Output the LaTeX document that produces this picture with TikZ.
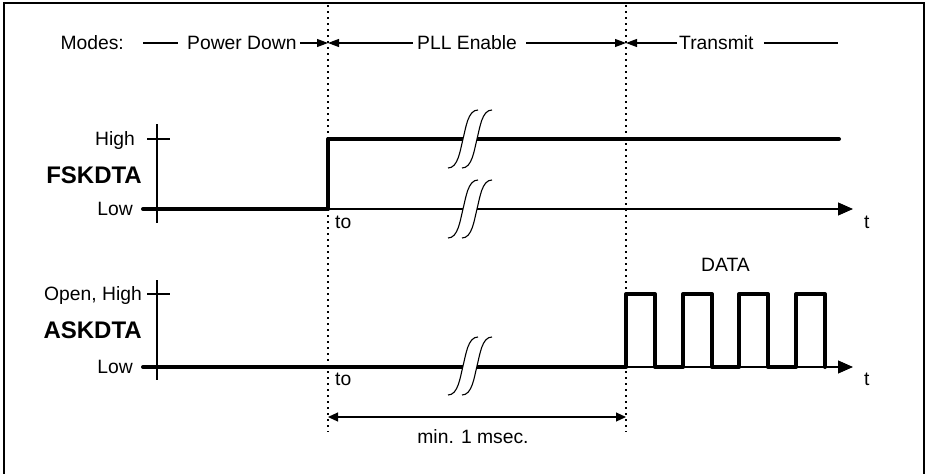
\documentclass[tikz,border=0pt]{standalone}
\usepackage{fontspec}
\setmainfont{Liberation Sans}
\usetikzlibrary{arrows.meta}
\begin{document}
\begin{tikzpicture}[x=1pt,y=-1pt,
  lbl/.style={font=\fontsize{19.3}{22}\selectfont, inner sep=0pt, text height=13.8pt, text depth=0pt},
  boldlbl/.style={font=\fontsize{24}{28}\selectfont\bfseries, inner sep=0pt, text height=17.2pt, text depth=0pt},
  thinln/.style={line width=1.1pt},
  sig/.style={line width=4pt, line cap=round, line join=round},
  guide/.style={line width=1.4pt, dash pattern=on 1.6pt off 4.4pt},
  marr/.style={line width=1.1pt, -{Triangle[length=11pt,width=8pt]}},
  axarr/.style={line width=1.1pt, -{Triangle[length=15pt,width=13pt]}},
  darr/.style={line width=1.1pt, {Triangle[length=10pt,width=9pt]}-{Triangle[length=10pt,width=9pt]}},
  brk/.pic={
    \fill[white] (-7,-3.5) rectangle (7,3.5);
    \draw[line width=1.1pt] (-22,29) .. controls (-12,29) and (-10,12) .. (-7,0) .. controls (-4,-12) and (-2,-29) .. (8,-29);
    \draw[line width=1.1pt] (-8,29) .. controls (2,29) and (4,12) .. (7,0) .. controls (10,-12) and (12,-29) .. (22,-29);
  }]
\useasboundingbox (0,0) rectangle (927,474);
% frame
\draw[line width=1.5pt] (4,480) -- (4,3) -- (924,3) -- (924,480);
% guides
\coordinate (g1t) at (328,5); \coordinate (g1b) at (328,432);
\coordinate (g2t) at (626,5); \coordinate (g2b) at (626,432);
\draw[guide] (g1t) -- (g1b);
\draw[guide] (g2t) -- (g2b);
% modes row
\node[lbl, anchor=east] (modes) at (124,43) {Modes:};
\coordinate (m1) at (143,43); \coordinate (m2) at (178,43);
\draw[thinln] (m1) -- (m2);
\node[lbl, anchor=west] (pd) at (187,43) {Power Down};
\coordinate (b1) at (328,43);
\draw[marr] ([xshift=3pt]pd.east) -- (b1);
\node[lbl, anchor=west] (pll) at (417,43) {PLL Enable};
\draw[marr] ([xshift=-4pt]pll.west) -- (b1);
\coordinate (b2) at (626,43);
\draw[marr] ([xshift=9pt]pll.east) -- (b2);
\node[lbl, anchor=west] (tx) at (679,43) {Transmit};
\draw[marr] ([xshift=-2pt]tx.west) -- (b2);
\coordinate (m3) at (838,43);
\draw[thinln] ([xshift=10pt]tx.east) -- (m3);
% FSKDTA
\coordinate (fa0) at (157,124); \coordinate (fa1) at (157,223);
\coordinate (fh1) at (147,139); \coordinate (fh2) at (170,139);
\coordinate (fo) at (157,209); \coordinate (fT) at (853,209);
\draw[thinln] (fa0) -- (fa1);
\draw[thinln] (fh1) -- (fh2);
\draw[axarr] (fo) -- (fT);
\coordinate (fL) at (143,209); \coordinate (f0) at (328,209);
\coordinate (f0h) at (328,139); \coordinate (fE) at (839,139);
\draw[sig] (fL) -- (f0) -- (f0h) -- (fE);
\pic at (470,139) {brk};
\pic at (470,209) {brk};
\node[lbl, anchor=east] (fhigh) at (135,139) {High};
\node[boldlbl, anchor=east] (fname) at (142,175) {FSKDTA};
\node[lbl, anchor=east] (flow) at (133,209) {Low};
\node[lbl, anchor=west] (fto) at (335,222) {to};
\node[lbl, anchor=west] (ft) at (864,222) {t};
% ASKDTA
\coordinate (aa0) at (157,280); \coordinate (aa1) at (157,380);
\coordinate (ah1) at (147,294); \coordinate (ah2) at (170,294);
\coordinate (ao) at (157,367); \coordinate (aT) at (853,367);
\draw[thinln] (aa0) -- (aa1);
\draw[thinln] (ah1) -- (ah2);
\draw[axarr] (ao) -- (aT);
\draw[sig] (143,367) -- (626,367) -- (626,294) -- (655,294) -- (655,367)
  -- (683,367) -- (683,294) -- (712,294) -- (712,367)
  -- (739,367) -- (739,294) -- (768,294) -- (768,367)
  -- (796,367) -- (796,294) -- (825,294) -- (825,367);
\pic at (470,366) {brk};
\node[lbl, anchor=east] (ahigh) at (142,294) {Open, High};
\node[boldlbl, anchor=east] (aname) at (142,329.5) {ASKDTA};
\node[lbl, anchor=east] (alow) at (133,367) {Low};
\node[lbl, anchor=west] (ato) at (335,379) {to};
\node[lbl, anchor=west] (at) at (864,379) {t};
\node[lbl] (data) at (725.5,264.5) {DATA};
% min time
\coordinate (d1) at (328,417); \coordinate (d2) at (626,417);
\draw[darr] (d1) -- (d2);
\node[lbl] (mint) at (473,437) {min. 1 msec.};
\end{tikzpicture}
\end{document}
